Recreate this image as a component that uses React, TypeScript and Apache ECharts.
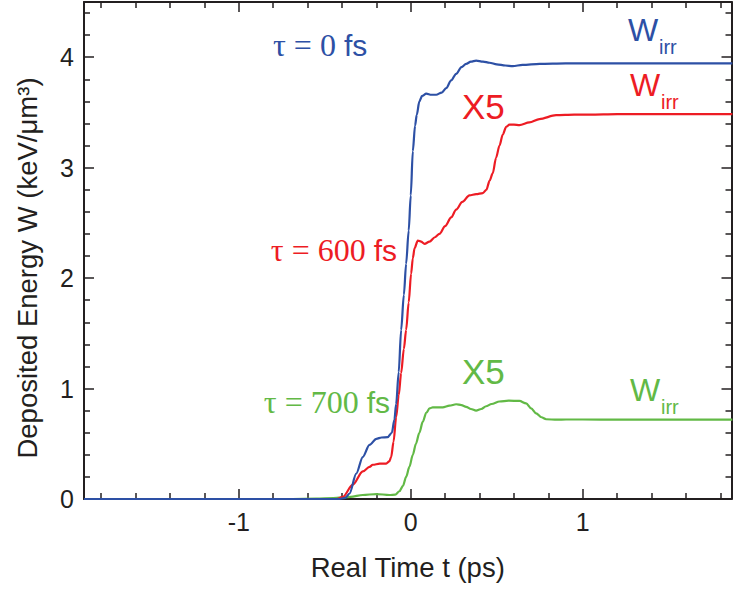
import React, { useEffect, useRef } from 'react';
import * as echarts from 'echarts';

// Deposited energy W(t) for three pump–probe delays τ
const t0 = [-1.9, -0.6, -0.42, -0.38, -0.356, -0.317, -0.279, -0.24, -0.2, -0.17, -0.134, -0.11, -0.095, -0.085, -0.07, -0.056, -0.04, -0.027, -0.012, 0.0, 0.012, 0.025, 0.035, 0.05, 0.066, 0.09, 0.12, 0.148, 0.18, 0.206, 0.235, 0.264, 0.295, 0.322, 0.35, 0.38, 0.42, 0.458, 0.5, 0.55, 0.593, 0.65, 0.75, 0.9, 1.1, 1.33, 1.6, 1.87];
const w0 = [0, 0, 0, 0.01, 0.05, 0.23, 0.38, 0.49, 0.545, 0.557, 0.56, 0.6, 0.72, 0.86, 1.15, 1.53, 1.85, 2.13, 2.43, 2.75, 3.15, 3.38, 3.48, 3.6, 3.65, 3.67, 3.66, 3.66, 3.68, 3.72, 3.79, 3.85, 3.91, 3.94, 3.96, 3.97, 3.96, 3.95, 3.935, 3.925, 3.92, 3.93, 3.94, 3.945, 3.945, 3.945, 3.945, 3.945];

const t600 = [-1.9, -0.6, -0.43, -0.395, -0.337, -0.279, -0.24, -0.221, -0.18, -0.143, -0.125, -0.114, -0.1, -0.085, -0.07, -0.056, -0.04, -0.027, -0.012, 0.002, 0.012, 0.022, 0.041, 0.06, 0.08, 0.109, 0.14, 0.167, 0.2, 0.235, 0.264, 0.3, 0.341, 0.38, 0.419, 0.44, 0.458, 0.477, 0.496, 0.516, 0.535, 0.555, 0.574, 0.6, 0.632, 0.69, 0.748, 0.845, 0.95, 1.04, 1.2, 1.4, 1.6, 1.87];
const w600 = [0, 0, 0, 0.02, 0.13, 0.25, 0.29, 0.31, 0.32, 0.32, 0.34, 0.38, 0.52, 0.74, 0.94, 1.14, 1.36, 1.53, 1.78, 2.04, 2.18, 2.27, 2.34, 2.33, 2.31, 2.33, 2.37, 2.4, 2.47, 2.55, 2.62, 2.69, 2.75, 2.76, 2.77, 2.8, 2.88, 2.95, 3.09, 3.2, 3.3, 3.37, 3.39, 3.39, 3.385, 3.41, 3.44, 3.475, 3.48, 3.48, 3.485, 3.485, 3.485, 3.485];

const t700 = [-1.9, -0.7, -0.55, -0.45, -0.35, -0.279, -0.2, -0.124, -0.09, -0.066, -0.045, -0.027, -0.008, 0.012, 0.03, 0.05, 0.07, 0.09, 0.109, 0.128, 0.16, 0.186, 0.225, 0.264, 0.295, 0.322, 0.35, 0.38, 0.41, 0.438, 0.47, 0.516, 0.57, 0.632, 0.671, 0.7, 0.729, 0.76, 0.787, 0.85, 0.903, 1.0, 1.21, 1.5, 1.87];
const w700 = [0, 0, 0.003, 0.008, 0.02, 0.036, 0.045, 0.036, 0.04, 0.07, 0.12, 0.2, 0.29, 0.4, 0.5, 0.6, 0.7, 0.78, 0.82, 0.83, 0.83, 0.83, 0.845, 0.858, 0.85, 0.835, 0.815, 0.8, 0.815, 0.84, 0.86, 0.883, 0.89, 0.888, 0.865, 0.82, 0.775, 0.74, 0.722, 0.718, 0.72, 0.72, 0.718, 0.718, 0.718];

// Axis ticks
const xMajor = [-1, 0, 1];
const xMinor = [-1.8, -1.6, -1.4, -1.2, -0.8, -0.6, -0.4, -0.2, 0.2, 0.4, 0.6, 0.8, 1.2, 1.4, 1.6, 1.8];
const yMajor = [0, 1, 2, 3, 4];
const yMinor = [0.2, 0.4, 0.6, 0.8, 1.2, 1.4, 1.6, 1.8, 2.2, 2.4, 2.6, 2.8, 3.2, 3.4, 3.6, 3.8, 4.2, 4.4];

const X_MIN = -1.9;
const X_MAX = 1.865;
const Y_MIN = 0;
const Y_MAX = 4.5;

const BLUE = '#2d50a5';
const RED = '#ed1c24';
const GREEN = '#62b946';
const INK = '#231f20';
const SANS = '"Liberation Sans", Arial, Helvetica, sans-serif';
const SERIF = '"Liberation Serif", "Times New Roman", serif';

const zip = (a: number[], b: number[]) => a.map((v, i) => [v, b[i]]);

function axis(
  kind: 'x' | 'y',
  position: string,
  ticks: number[],
  len: number,
  line: boolean,
  labels: number[] | null
): any {
  return {
    type: 'value',
    position,
    min: kind === 'x' ? X_MIN : Y_MIN,
    max: kind === 'x' ? X_MAX : Y_MAX,
    axisLine: { show: line, onZero: false, lineStyle: { color: INK, width: 2 } },
    axisTick: {
      show: true,
      inside: true,
      length: len,
      customValues: ticks,
      lineStyle: { color: INK, width: 1.5 },
    },
    axisLabel: labels
      ? {
          show: true,
          customValues: labels,
          color: INK,
          fontSize: 25,
          fontFamily: SANS,
          margin: 10,
        }
      : { show: false },
    splitLine: { show: false },
  };
}

function tau(text: string, color: string, x: number, y: number, align: string) {
  return {
    type: 'text',
    x,
    y,
    style: {
      text: `{t|${text} }{f|fs}`,
      align,
      verticalAlign: 'middle',
      fill: color,
      rich: {
        t: { fontFamily: SERIF, fontSize: 32, fill: color },
        f: { fontFamily: SANS, fontSize: 30, fill: color },
      },
    },
  };
}

function plain(text: string, color: string, x: number, y: number, size: number) {
  return {
    type: 'text',
    x,
    y,
    style: {
      text,
      fill: color,
      fontFamily: SANS,
      fontSize: size,
      align: 'left',
      verticalAlign: 'middle',
    },
  };
}

function wirr(color: string, x: number, y: number) {
  return [plain('W', color, x, y, 32), plain('irr', color, x + 31, y + 17, 20)];
}

export default function App() {
  const ref = useRef<HTMLDivElement>(null);

  useEffect(() => {
    if (!ref.current) return;
    const chart = echarts.init(ref.current, undefined, { renderer: 'svg' });

    const line = (data: number[][], color: string) => ({
      type: 'line',
      data,
      showSymbol: false,
      smooth: 0.3,
      smoothMonotone: 'x',
      lineStyle: { color, width: 2.2 },
      itemStyle: { color },
      xAxisIndex: 0,
      yAxisIndex: 0,
    });

    chart.setOption({
      animation: false,
      backgroundColor: '#ffffff',
      grid: { left: 84, right: 1.5, top: 2, bottom: 90 },
      xAxis: [
        {
          ...axis('x', 'bottom', xMajor, 10, true, xMajor),
          name: 'Real Time t (ps)',
          nameLocation: 'middle',
          nameGap: 54,
          nameTextStyle: { color: INK, fontSize: 27.5, fontFamily: SANS },
        },
        axis('x', 'bottom', xMinor, 6, false, null),
        axis('x', 'top', xMajor, 10, true, null),
        axis('x', 'top', xMinor, 6, false, null),
      ],
      yAxis: [
        axis('y', 'left', yMajor, 10, true, yMajor),
        axis('y', 'left', yMinor, 6, false, null),
        axis('y', 'right', yMajor, 10, true, null),
        axis('y', 'right', yMinor, 6, false, null),
      ],
      series: [
        line(zip(t700, w700), GREEN),
        line(zip(t600, w600), RED),
        line(zip(t0, w0), BLUE),
      ],
      graphic: [
        {
          type: 'text',
          x: 27,
          y: 268,
          rotation: Math.PI / 2,
          style: {
            text: 'Deposited Energy W (keV/\u03bcm\u00b3)',
            fill: INK,
            fontFamily: SANS,
            fontSize: 27.5,
            align: 'center',
            verticalAlign: 'middle',
          },
        },
        tau('\u03c4 = 0', BLUE, 273, 45, 'left'),
        tau('\u03c4 = 600', RED, 397, 250, 'right'),
        tau('\u03c4 = 700', GREEN, 390, 402, 'right'),
        plain('X5', RED, 462, 106, 35),
        plain('X5', GREEN, 462, 371, 35),
        ...wirr(BLUE, 628, 30),
        ...wirr(RED, 630, 85),
        ...wirr(GREEN, 630, 390),
      ],
    });

    return () => chart.dispose();
  }, []);

  return (
    <div
      ref={ref}
      style={{ position: 'fixed', left: 0, top: 0, width: 733, height: 589 }}
    />
  );
}
